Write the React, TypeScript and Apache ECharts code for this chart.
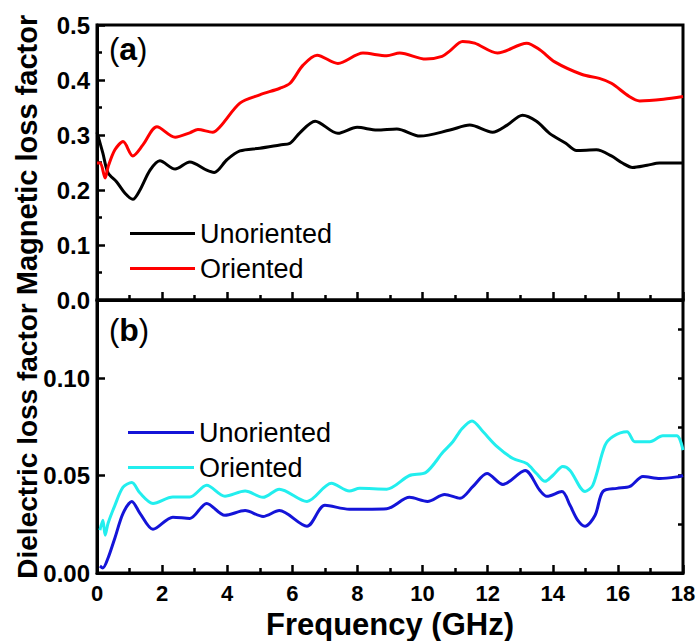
import React, { useEffect, useRef } from 'react';
import * as echarts from 'echarts';

// Panel (a): magnetic loss factor
const magFreqUn = [0, 0.18, 0.34, 0.6, 0.86, 1.1, 1.32, 1.63, 1.93, 2.4, 2.85, 3.37, 3.6, 3.99, 4.39, 5.0, 5.62, 5.93, 6.23, 6.7, 7.4, 7.99, 8.6, 9.21, 9.92, 10.84, 11.45, 12.15, 12.6, 13.07, 13.5, 13.9, 14.4, 14.73, 15.34, 15.8, 16.14, 16.45, 16.9, 17.28, 18];
const magUn = [0.305, 0.267, 0.231, 0.215, 0.194, 0.183, 0.2, 0.236, 0.253, 0.238, 0.251, 0.236, 0.232, 0.255, 0.271, 0.276, 0.282, 0.285, 0.304, 0.325, 0.303, 0.314, 0.309, 0.311, 0.298, 0.309, 0.318, 0.305, 0.318, 0.336, 0.325, 0.303, 0.285, 0.272, 0.273, 0.262, 0.249, 0.241, 0.245, 0.249, 0.249];
const magFreqOr = [0, 0.1, 0.25, 0.34, 0.55, 0.8, 1.1, 1.41, 1.84, 2.4, 2.85, 3.1, 3.55, 3.78, 4.39, 5.0, 5.62, 5.93, 6.33, 6.76, 7.4, 8.17, 8.9, 9.3, 10.1, 10.6, 10.84, 11.23, 11.6, 12.3, 13.2, 13.6, 14.06, 14.9, 15.43, 15.8, 16.35, 16.67, 17.4, 18];
const magOr = [0.249, 0.249, 0.222, 0.242, 0.273, 0.288, 0.262, 0.282, 0.315, 0.296, 0.304, 0.31, 0.305, 0.315, 0.358, 0.373, 0.385, 0.394, 0.427, 0.445, 0.43, 0.449, 0.444, 0.449, 0.438, 0.443, 0.453, 0.47, 0.467, 0.449, 0.467, 0.455, 0.433, 0.41, 0.403, 0.394, 0.37, 0.362, 0.365, 0.37];

// Panel (b): dielectric loss factor
const dieFreqUn = [0.09, 0.18, 0.34, 0.55, 0.8, 1.07, 1.32, 1.72, 2.33, 2.85, 3.37, 3.93, 4.55, 5.1, 5.6, 6.45, 7.0, 7.75, 8.9, 9.6, 10.15, 10.68, 11.15, 11.55, 11.98, 12.47, 13.15, 13.6, 13.82, 14.28, 14.53, 14.77, 14.99, 15.3, 15.54, 15.97, 16.37, 16.77, 17.29, 17.9, 18];
const dieUn = [0.0036, 0.0026, 0.0077, 0.018, 0.0306, 0.0367, 0.0306, 0.0224, 0.0286, 0.028, 0.0357, 0.0296, 0.032, 0.029, 0.032, 0.024, 0.0347, 0.0327, 0.033, 0.0388, 0.0367, 0.0403, 0.0383, 0.0444, 0.051, 0.0454, 0.0526, 0.0424, 0.0393, 0.0418, 0.0347, 0.027, 0.024, 0.0296, 0.0418, 0.0434, 0.0444, 0.0495, 0.0485, 0.0495, 0.05];
const dieFreqOr = [0.09, 0.18, 0.25, 0.34, 0.55, 0.8, 1.07, 1.32, 1.72, 2.33, 2.85, 3.37, 3.93, 4.55, 5.1, 5.6, 6.45, 7.2, 7.75, 8.07, 8.9, 9.6, 10.1, 10.63, 10.93, 11.21, 11.52, 11.86, 12.29, 12.78, 13.2, 13.5, 13.76, 14.0, 14.31, 14.53, 14.99, 15.23, 15.6, 15.85, 16.28, 16.52, 16.98, 17.38, 17.81, 18];
const dieOr = [0.022, 0.027, 0.0194, 0.0255, 0.0347, 0.044, 0.0464, 0.041, 0.0357, 0.039, 0.039, 0.045, 0.0394, 0.042, 0.0388, 0.043, 0.0367, 0.046, 0.042, 0.0434, 0.043, 0.05, 0.0515, 0.062, 0.0673, 0.074, 0.078, 0.0724, 0.0648, 0.0587, 0.0561, 0.051, 0.047, 0.05, 0.0546, 0.0526, 0.0418, 0.045, 0.0653, 0.07, 0.0724, 0.0673, 0.0673, 0.0704, 0.0704, 0.063];

const FONT = '"Liberation Sans", Arial, sans-serif';

const pairs = (xs: number[], ys: number[]) => xs.map((x, i) => [x, ys[i]]);

export default function App() {
  const ref = useRef<HTMLDivElement>(null);
  useEffect(() => {
    if (!ref.current) return;
    const chart = echarts.init(ref.current, undefined, { renderer: 'svg' });
    const axisLine = { show: true, lineStyle: { color: '#000', width: 3 } };
    const majorTick = { show: true, inside: true, length: 8, lineStyle: { color: '#000', width: 2.5 } };
    const minorTick = { show: true, splitNumber: 2, length: 5, lineStyle: { color: '#000', width: 2.5 } };
    const tickLabel = { color: '#000', fontSize: 24, fontWeight: 'bold', fontFamily: FONT };
    const lineSeries = (name: string, xi: number, yi: number, data: number[][], color: string) => ({
      name, type: 'line', xAxisIndex: xi, yAxisIndex: yi, data, showSymbol: false, smooth: 0.3,
      lineStyle: { color, width: 3 }, itemStyle: { color }, z: 3,
    });
    const panelLabel = (letter: string, top: number) => ({
      type: 'text', left: 109, top,
      style: {
        text: `{p|(}{b|${letter}}{p|)}`, fill: '#000',
        rich: {
          p: { fontSize: 31, fontFamily: FONT, fill: '#000' },
          b: { fontSize: 32, fontWeight: 'bold', fontFamily: FONT, fill: '#000' },
        },
      },
    });
    const yTitle = (text: string, cy: number, size: number) => ({
      type: 'text', x: 27, y: cy, rotation: Math.PI / 2,
      style: {
        text, fill: '#000', align: 'center', verticalAlign: 'middle',
        fontSize: size, fontWeight: 'bold', fontFamily: FONT,
      },
    });
    chart.setOption({
      animation: false,
      backgroundColor: '#fff',
      grid: [
        { left: 97, top: 25, width: 586, height: 275, show: true, borderColor: '#000', borderWidth: 3, backgroundColor: 'transparent' },
        { left: 97, top: 300, width: 586, height: 275, show: true, borderColor: '#000', borderWidth: 3, backgroundColor: 'transparent' },
      ],
      xAxis: [
        { gridIndex: 0, type: 'value', min: 0, max: 18, interval: 2, axisLine, axisTick: majorTick, minorTick, axisLabel: { show: false }, splitLine: { show: false } },
        {
          gridIndex: 1, type: 'value', min: 0, max: 18, interval: 2, axisLine, axisTick: majorTick, minorTick,
          axisLabel: { ...tickLabel, fontSize: 22, margin: 9 }, splitLine: { show: false },
          name: 'Frequency (GHz)', nameLocation: 'middle', nameGap: 36,
          nameTextStyle: { color: '#000', fontSize: 31, fontWeight: 'bold', fontFamily: FONT },
        },
      ],
      yAxis: [
        {
          gridIndex: 0, type: 'value', min: 0, max: 0.5, interval: 0.1, axisLine, axisTick: majorTick, minorTick,
          axisLabel: { ...tickLabel, margin: 7, formatter: (v: number) => v.toFixed(1) }, splitLine: { show: false },
        },
        {
          gridIndex: 1, type: 'value', min: 0, max: 0.14, interval: 0.05, axisLine, axisTick: majorTick,
          axisLabel: {
            ...tickLabel, margin: 7,
            formatter: (v: number) => (Math.abs(v / 0.05 - Math.round(v / 0.05)) < 1e-6 ? v.toFixed(2) : ''),
          },
          splitLine: { show: false },
        },
        {
          gridIndex: 1, type: 'value', min: 0, max: 0.14, interval: 0.025, axisLine: { show: false },
          axisTick: { show: true, inside: true, length: 5, lineStyle: { color: '#000', width: 2.5 } },
          axisLabel: { show: false }, splitLine: { show: false },
        },
      ],
      legend: [
        {
          data: ['Unoriented', 'Oriented'], left: 130, top: 220, padding: 0, orient: 'vertical', icon: 'rect',
          itemWidth: 65, itemHeight: 3, itemGap: 8, selectedMode: false,
          textStyle: { color: '#000', fontSize: 27, fontFamily: FONT },
        },
        {
          data: ['Unoriented (b)', 'Oriented (b)'], left: 128, top: 419, padding: 0, orient: 'vertical', icon: 'rect',
          itemWidth: 66, itemHeight: 3, itemGap: 8, selectedMode: false,
          formatter: (n: string) => n.replace(' (b)', ''),
          textStyle: { color: '#000', fontSize: 27, fontFamily: FONT },
        },
      ],
      graphic: [
        panelLabel('a', 33), panelLabel('b', 314),
        yTitle('Magnetic loss factor', 155, 29), yTitle('Dielectric loss factor', 441, 28),
      ],
      series: [
        lineSeries('Unoriented', 0, 0, pairs(magFreqUn, magUn), '#000000'),
        lineSeries('Oriented', 0, 0, pairs(magFreqOr, magOr), '#ff0000'),
        lineSeries('Unoriented (b)', 1, 1, pairs(dieFreqUn, dieUn), '#1414d8'),
        lineSeries('Oriented (b)', 1, 1, pairs(dieFreqOr, dieOr), '#22eeee'),
      ],
    });
    return () => chart.dispose();
  }, []);
  return <div ref={ref} style={{ position: 'absolute', left: 0, top: 0, width: 699, height: 641 }} />;
}
